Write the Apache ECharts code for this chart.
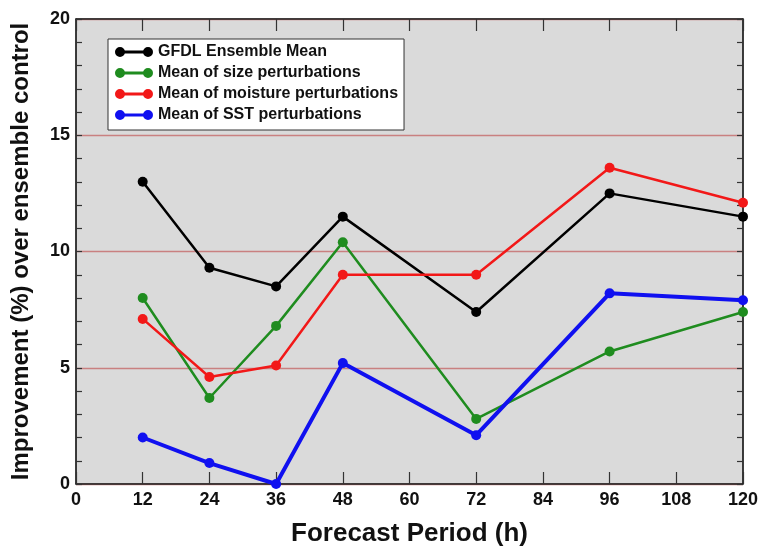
<!DOCTYPE html>
<html>
<head>
<meta charset="utf-8">
<script src="https://cdn.jsdelivr.net/npm/echarts@6/dist/echarts.min.js"></script>
<style>
  html, body { margin: 0; padding: 0; background: #fff; }
  #chart { width: 759px; height: 548px; }
</style>
</head>
<body>
<div id="chart"></div>
<script>
// forecast hours
const hours = [12, 24, 36, 48, 72, 96, 120];

// improvement (%) over ensemble control
const gfdlMean = [13.0, 9.3, 8.5, 11.5, 7.4, 12.5, 11.5];
const sizeMean = [8.0, 3.7, 6.8, 10.4, 2.8, 5.7, 7.4];
const moistureMean = [7.1, 4.6, 5.1, 9.0, 9.0, 13.6, 12.1];
const sstMean = [2.0, 0.9, 0.0, 5.2, 2.1, 8.2, 7.9];

const seriesNames = [
  'GFDL Ensemble Mean',
  'Mean of size perturbations',
  'Mean of moisture perturbations',
  'Mean of SST perturbations'
];

const font = 'Liberation Sans, Arial, Helvetica, sans-serif';
const legendIcon = 'path://M0,5 A5,5 0 1,1 10,5 A5,5 0 1,1 0,5 Z M28,5 A5,5 0 1,1 38,5 A5,5 0 1,1 28,5 Z M5,3.6 L33,3.6 L33,6.4 L5,6.4 Z';

function pairs(values) {
  return hours.map((h, i) => [h, values[i]]);
}

function lineSeries(name, values, color, width, size) {
  return {
    name: name,
    type: 'line',
    data: pairs(values),
    symbol: 'circle',
    symbolSize: size,
    showSymbol: true,
    itemStyle: { color: color },
    lineStyle: { color: color, width: width },
    z: 3
  };
}

const chart = echarts.init(document.getElementById('chart'));

const baseX = {
  type: 'value',
  min: 0,
  max: 120,
  interval: 12,
  splitLine: { show: false },
  axisLine: { onZero: false, lineStyle: { color: '#222', width: 1.5 } },
  axisTick: { inside: true, length: 12, lineStyle: { color: '#333', width: 1.2 } }
};

// ticks every 1 %, labels only every 5 %
const baseY = {
  type: 'value',
  min: 0,
  max: 20,
  interval: 1,
  splitLine: { show: false },
  axisLine: { show: true, onZero: false, lineStyle: { color: '#222', width: 1.5 } },
  axisTick: { show: true, inside: true, length: 6, lineStyle: { color: '#333', width: 1.2 } }
};

chart.setOption({
  animation: false,
  backgroundColor: '#fff',
  grid: {
    left: 76,
    right: 16,
    top: 19,
    bottom: 64,
    outerBoundsMode: 'none',
    show: true,
    backgroundColor: '#dadada',
    borderColor: '#222',
    borderWidth: 1
  },
  legend: {
    orient: 'vertical',
    left: 108,
    top: 39,
    padding: [5, 6, 7, 7],
    backgroundColor: '#fff',
    borderColor: '#333',
    borderWidth: 1,
    itemWidth: 38,
    itemHeight: 10,
    itemGap: 5,
    icon: legendIcon,
    textStyle: {
      fontFamily: font,
      fontWeight: 'bold',
      fontSize: 16,
      lineHeight: 16,
      color: '#111'
    },
    data: seriesNames
  },
  xAxis: [
    Object.assign({}, baseX, {
      position: 'bottom',
      name: 'Forecast Period (h)',
      nameLocation: 'middle',
      nameGap: 37,
      nameTextStyle: { fontFamily: font, fontWeight: 'bold', fontSize: 26, color: '#111' },
      axisLabel: { margin: 7, fontFamily: font, fontWeight: 'bold', fontSize: 18, color: '#111' }
    }),
    Object.assign({}, baseX, {
      position: 'top',
      axisLabel: { show: false }
    })
  ],
  yAxis: [
    Object.assign({}, baseY, {
      position: 'left',
      name: 'Improvement (%) over ensemble control',
      nameLocation: 'middle',
      nameGap: 43,
      nameTextStyle: { fontFamily: font, fontWeight: 'bold', fontSize: 24, color: '#111' },
      axisLabel: {
        margin: 6,
        fontFamily: font,
        fontWeight: 'bold',
        fontSize: 18,
        color: '#111',
        formatter: v => (v % 5 === 0 ? String(v) : '')
      }
    }),
    Object.assign({}, baseY, {
      position: 'right',
      axisLabel: { show: false }
    }),
    {
      // grid lines every 5 %
      type: 'value',
      min: 0,
      max: 20,
      interval: 5,
      position: 'left',
      axisLine: { show: false, onZero: false },
      axisTick: { show: false },
      axisLabel: { show: false },
      splitLine: { show: true, lineStyle: { color: '#c98080', width: 1.3 } }
    }
  ],
  series: [
    lineSeries(seriesNames[0], gfdlMean, '#000000', 2.5, 10),
    lineSeries(seriesNames[1], sizeMean, '#1f8c1f', 2.5, 10),
    lineSeries(seriesNames[2], moistureMean, '#f21818', 2.5, 10),
    lineSeries(seriesNames[3], sstMean, '#1010f0', 4, 10)
  ]
});
</script>
</body>
</html>
